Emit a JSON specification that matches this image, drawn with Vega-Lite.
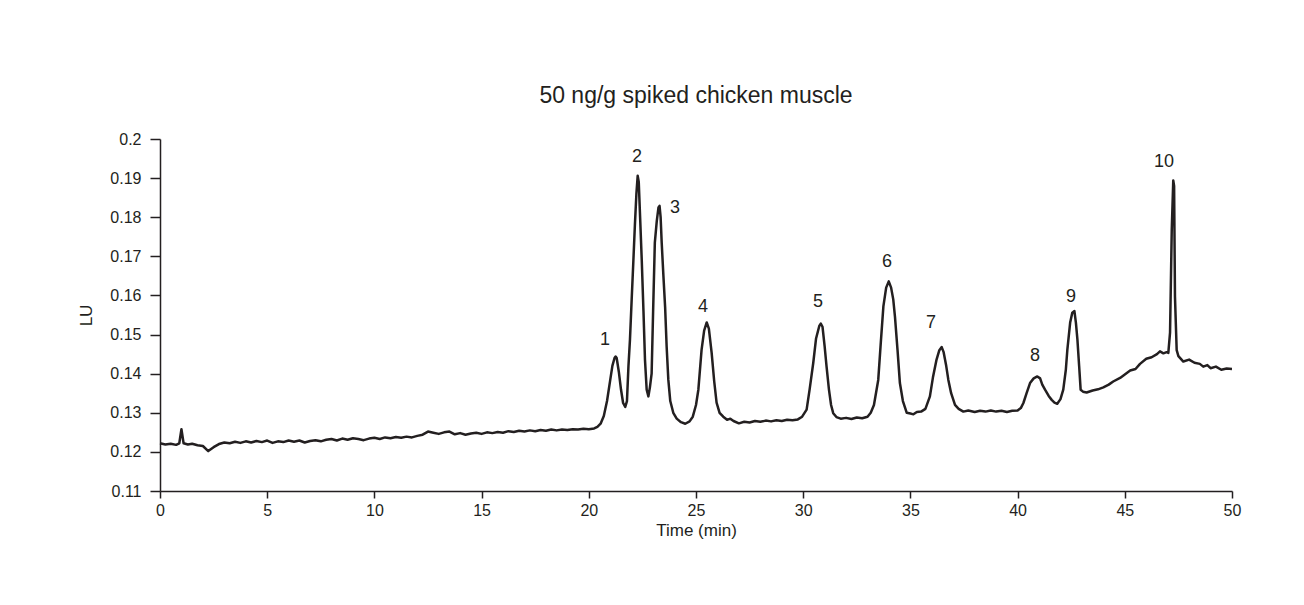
{
  "$schema": "https://vega.github.io/schema/vega-lite/v6.json",
  "width": 1072,
  "height": 352,
  "autosize": {"type": "none"},
  "padding": {"left": 160, "top": 139, "right": 72, "bottom": 114},
  "background": "white",
  "title": {
    "text": "50 ng/g spiked chicken muscle",
    "font": "Liberation Sans",
    "fontSize": 23,
    "fontWeight": "normal",
    "color": "#231f20",
    "anchor": "middle",
    "offset": 23
  },
  "config": {
    "view": {"stroke": null},
    "axis": {
      "grid": false,
      "domainColor": "#231f20",
      "tickColor": "#231f20",
      "labelColor": "#231f20",
      "titleColor": "#231f20",
      "domainWidth": 1.5,
      "tickWidth": 1.5,
      "labelFont": "Liberation Sans",
      "labelFontSize": 16,
      "labelFlush": false,
      "titleFont": "Liberation Sans",
      "titleFontSize": 17,
      "titleFontWeight": "normal"
    }
  },
  "datasets": {
    "trace": [
      {"t": 0.0, "v": 0.1222}, {"t": 0.25, "v": 0.1219}, {"t": 0.5, "v": 0.1221}, {"t": 0.75, "v": 0.1218},
      {"t": 0.9, "v": 0.1222}, {"t": 1.0, "v": 0.1258}, {"t": 1.1, "v": 0.1222}, {"t": 1.3, "v": 0.1219},
      {"t": 1.5, "v": 0.1221}, {"t": 1.75, "v": 0.1217}, {"t": 2.0, "v": 0.1215}, {"t": 2.25, "v": 0.1202},
      {"t": 2.5, "v": 0.1212}, {"t": 2.75, "v": 0.122}, {"t": 3.0, "v": 0.1224}, {"t": 3.25, "v": 0.1222},
      {"t": 3.5, "v": 0.1226}, {"t": 3.75, "v": 0.1223}, {"t": 4.0, "v": 0.1227}, {"t": 4.25, "v": 0.1224},
      {"t": 4.5, "v": 0.1228}, {"t": 4.75, "v": 0.1225}, {"t": 5.0, "v": 0.1229}, {"t": 5.25, "v": 0.1223},
      {"t": 5.5, "v": 0.1227}, {"t": 5.75, "v": 0.1225}, {"t": 6.0, "v": 0.1229}, {"t": 6.25, "v": 0.1226},
      {"t": 6.5, "v": 0.1229}, {"t": 6.75, "v": 0.1224}, {"t": 7.0, "v": 0.1228}, {"t": 7.25, "v": 0.123},
      {"t": 7.5, "v": 0.1227}, {"t": 7.75, "v": 0.1231}, {"t": 8.0, "v": 0.1233}, {"t": 8.25, "v": 0.1229},
      {"t": 8.5, "v": 0.1234}, {"t": 8.75, "v": 0.1231}, {"t": 9.0, "v": 0.1235}, {"t": 9.25, "v": 0.1233},
      {"t": 9.5, "v": 0.123}, {"t": 9.75, "v": 0.1234}, {"t": 10.0, "v": 0.1236}, {"t": 10.25, "v": 0.1233},
      {"t": 10.5, "v": 0.1237}, {"t": 10.75, "v": 0.1235}, {"t": 11.0, "v": 0.1238}, {"t": 11.25, "v": 0.1236},
      {"t": 11.5, "v": 0.1239}, {"t": 11.75, "v": 0.1237}, {"t": 12.0, "v": 0.1241}, {"t": 12.25, "v": 0.1244},
      {"t": 12.5, "v": 0.1252}, {"t": 12.75, "v": 0.1249}, {"t": 13.0, "v": 0.1246}, {"t": 13.25, "v": 0.125},
      {"t": 13.5, "v": 0.1252}, {"t": 13.75, "v": 0.1245}, {"t": 14.0, "v": 0.1248}, {"t": 14.25, "v": 0.1244},
      {"t": 14.5, "v": 0.1247}, {"t": 14.75, "v": 0.1249}, {"t": 15.0, "v": 0.1246}, {"t": 15.25, "v": 0.125},
      {"t": 15.5, "v": 0.1248}, {"t": 15.75, "v": 0.1251}, {"t": 16.0, "v": 0.1249}, {"t": 16.25, "v": 0.1253},
      {"t": 16.5, "v": 0.1251}, {"t": 16.75, "v": 0.1254}, {"t": 17.0, "v": 0.1252}, {"t": 17.25, "v": 0.1255},
      {"t": 17.5, "v": 0.1253}, {"t": 17.75, "v": 0.1256}, {"t": 18.0, "v": 0.1254}, {"t": 18.25, "v": 0.1257},
      {"t": 18.5, "v": 0.1255}, {"t": 18.75, "v": 0.1257}, {"t": 19.0, "v": 0.1256}, {"t": 19.25, "v": 0.1258},
      {"t": 19.5, "v": 0.1257}, {"t": 19.75, "v": 0.1259}, {"t": 20.0, "v": 0.1258}, {"t": 20.25, "v": 0.126},
      {"t": 20.4, "v": 0.1264}, {"t": 20.55, "v": 0.1272}, {"t": 20.7, "v": 0.1292}, {"t": 20.85, "v": 0.133},
      {"t": 21.0, "v": 0.1384}, {"t": 21.1, "v": 0.142}, {"t": 21.2, "v": 0.144}, {"t": 21.25, "v": 0.1444},
      {"t": 21.3, "v": 0.144}, {"t": 21.4, "v": 0.1405}, {"t": 21.5, "v": 0.136}, {"t": 21.6, "v": 0.1325},
      {"t": 21.7, "v": 0.1315}, {"t": 21.78, "v": 0.133}, {"t": 21.85, "v": 0.142}, {"t": 21.92, "v": 0.1487},
      {"t": 22.0, "v": 0.159}, {"t": 22.08, "v": 0.169}, {"t": 22.15, "v": 0.178}, {"t": 22.22, "v": 0.186},
      {"t": 22.28, "v": 0.1906}, {"t": 22.33, "v": 0.189}, {"t": 22.4, "v": 0.179}, {"t": 22.47, "v": 0.169},
      {"t": 22.55, "v": 0.156}, {"t": 22.62, "v": 0.1436}, {"t": 22.7, "v": 0.1359}, {"t": 22.78, "v": 0.1342},
      {"t": 22.85, "v": 0.1365}, {"t": 22.93, "v": 0.14}, {"t": 23.0, "v": 0.156}, {"t": 23.08, "v": 0.1735},
      {"t": 23.17, "v": 0.179}, {"t": 23.25, "v": 0.1825}, {"t": 23.3, "v": 0.1829}, {"t": 23.35, "v": 0.18},
      {"t": 23.4, "v": 0.1735}, {"t": 23.48, "v": 0.165}, {"t": 23.56, "v": 0.157}, {"t": 23.63, "v": 0.147},
      {"t": 23.71, "v": 0.1384}, {"t": 23.8, "v": 0.133}, {"t": 23.94, "v": 0.13}, {"t": 24.1, "v": 0.1285},
      {"t": 24.3, "v": 0.1276}, {"t": 24.5, "v": 0.1272}, {"t": 24.7, "v": 0.1278}, {"t": 24.85, "v": 0.129},
      {"t": 25.0, "v": 0.132}, {"t": 25.11, "v": 0.1359}, {"t": 25.26, "v": 0.1461}, {"t": 25.38, "v": 0.151},
      {"t": 25.5, "v": 0.1531}, {"t": 25.6, "v": 0.1515}, {"t": 25.73, "v": 0.1453}, {"t": 25.85, "v": 0.138},
      {"t": 25.96, "v": 0.1326}, {"t": 26.1, "v": 0.13}, {"t": 26.27, "v": 0.129}, {"t": 26.45, "v": 0.1282},
      {"t": 26.6, "v": 0.1285}, {"t": 26.75, "v": 0.1279}, {"t": 27.0, "v": 0.1273}, {"t": 27.25, "v": 0.1277},
      {"t": 27.5, "v": 0.1275}, {"t": 27.75, "v": 0.1279}, {"t": 28.0, "v": 0.1277}, {"t": 28.25, "v": 0.128},
      {"t": 28.5, "v": 0.1278}, {"t": 28.75, "v": 0.1281}, {"t": 29.0, "v": 0.1279}, {"t": 29.25, "v": 0.1282},
      {"t": 29.5, "v": 0.1281}, {"t": 29.75, "v": 0.1283}, {"t": 29.95, "v": 0.129}, {"t": 30.16, "v": 0.1308},
      {"t": 30.3, "v": 0.136}, {"t": 30.47, "v": 0.1428}, {"t": 30.6, "v": 0.149}, {"t": 30.75, "v": 0.1522},
      {"t": 30.82, "v": 0.1528}, {"t": 30.9, "v": 0.152}, {"t": 31.0, "v": 0.147}, {"t": 31.09, "v": 0.1418},
      {"t": 31.2, "v": 0.136}, {"t": 31.3, "v": 0.132}, {"t": 31.4, "v": 0.1299}, {"t": 31.55, "v": 0.1289},
      {"t": 31.75, "v": 0.1285}, {"t": 32.0, "v": 0.1287}, {"t": 32.25, "v": 0.1284}, {"t": 32.5, "v": 0.1288},
      {"t": 32.75, "v": 0.1286}, {"t": 33.0, "v": 0.129}, {"t": 33.15, "v": 0.13}, {"t": 33.3, "v": 0.132},
      {"t": 33.5, "v": 0.1384}, {"t": 33.62, "v": 0.148}, {"t": 33.74, "v": 0.1572}, {"t": 33.87, "v": 0.162},
      {"t": 33.99, "v": 0.1636}, {"t": 34.1, "v": 0.162}, {"t": 34.2, "v": 0.159}, {"t": 34.28, "v": 0.1546},
      {"t": 34.4, "v": 0.146}, {"t": 34.51, "v": 0.1376}, {"t": 34.65, "v": 0.133}, {"t": 34.83, "v": 0.13},
      {"t": 35.0, "v": 0.1298}, {"t": 35.14, "v": 0.1296}, {"t": 35.3, "v": 0.1302}, {"t": 35.5, "v": 0.1303},
      {"t": 35.7, "v": 0.131}, {"t": 35.91, "v": 0.1342}, {"t": 36.05, "v": 0.139}, {"t": 36.22, "v": 0.1436},
      {"t": 36.35, "v": 0.146}, {"t": 36.46, "v": 0.1468}, {"t": 36.55, "v": 0.1455}, {"t": 36.67, "v": 0.142},
      {"t": 36.77, "v": 0.1384}, {"t": 36.9, "v": 0.135}, {"t": 37.08, "v": 0.132}, {"t": 37.25, "v": 0.131},
      {"t": 37.47, "v": 0.1303}, {"t": 37.7, "v": 0.1306}, {"t": 38.0, "v": 0.1302}, {"t": 38.25, "v": 0.1305},
      {"t": 38.5, "v": 0.1303}, {"t": 38.75, "v": 0.1306}, {"t": 39.0, "v": 0.1303}, {"t": 39.25, "v": 0.1305},
      {"t": 39.5, "v": 0.1302}, {"t": 39.75, "v": 0.1305}, {"t": 40.0, "v": 0.1306}, {"t": 40.15, "v": 0.1312},
      {"t": 40.27, "v": 0.1325}, {"t": 40.42, "v": 0.135}, {"t": 40.58, "v": 0.1376}, {"t": 40.75, "v": 0.1388},
      {"t": 40.92, "v": 0.1393}, {"t": 41.05, "v": 0.1388}, {"t": 41.15, "v": 0.1372}, {"t": 41.28, "v": 0.1359},
      {"t": 41.45, "v": 0.1343}, {"t": 41.59, "v": 0.1333}, {"t": 41.72, "v": 0.1326}, {"t": 41.85, "v": 0.1323},
      {"t": 42.0, "v": 0.1335}, {"t": 42.13, "v": 0.1359}, {"t": 42.25, "v": 0.141}, {"t": 42.32, "v": 0.1461},
      {"t": 42.45, "v": 0.153}, {"t": 42.55, "v": 0.1556}, {"t": 42.65, "v": 0.156}, {"t": 42.72, "v": 0.153},
      {"t": 42.79, "v": 0.1487}, {"t": 42.87, "v": 0.142}, {"t": 42.94, "v": 0.1359}, {"t": 43.05, "v": 0.1354},
      {"t": 43.22, "v": 0.1352}, {"t": 43.5, "v": 0.1357}, {"t": 43.75, "v": 0.136}, {"t": 44.0, "v": 0.1365},
      {"t": 44.25, "v": 0.1372}, {"t": 44.46, "v": 0.138}, {"t": 44.78, "v": 0.1389}, {"t": 45.0, "v": 0.1398},
      {"t": 45.25, "v": 0.1408}, {"t": 45.5, "v": 0.1412}, {"t": 45.71, "v": 0.1425}, {"t": 46.0, "v": 0.1438},
      {"t": 46.25, "v": 0.1442}, {"t": 46.5, "v": 0.145}, {"t": 46.64, "v": 0.1457}, {"t": 46.8, "v": 0.1452},
      {"t": 46.95, "v": 0.1455}, {"t": 47.03, "v": 0.1453}, {"t": 47.11, "v": 0.1505}, {"t": 47.19, "v": 0.1768},
      {"t": 47.26, "v": 0.1894}, {"t": 47.3, "v": 0.188}, {"t": 47.34, "v": 0.1597}, {"t": 47.42, "v": 0.146},
      {"t": 47.5, "v": 0.1445}, {"t": 47.73, "v": 0.1431}, {"t": 48.0, "v": 0.1436}, {"t": 48.25, "v": 0.1428},
      {"t": 48.5, "v": 0.1425}, {"t": 48.66, "v": 0.1418}, {"t": 48.85, "v": 0.1422}, {"t": 49.0, "v": 0.1414},
      {"t": 49.25, "v": 0.1418}, {"t": 49.5, "v": 0.141}, {"t": 49.75, "v": 0.1413}, {"t": 50.0, "v": 0.1412}
    ],
    "peaks": [
      {"label": "1", "t": 20.76, "v": 0.1487},
      {"label": "2", "t": 22.25, "v": 0.1954},
      {"label": "3", "t": 24.02, "v": 0.1824},
      {"label": "4", "t": 25.33, "v": 0.1571},
      {"label": "5", "t": 30.69, "v": 0.1582},
      {"label": "6", "t": 33.91, "v": 0.1686},
      {"label": "7", "t": 35.96, "v": 0.153},
      {"label": "8", "t": 40.81, "v": 0.1444},
      {"label": "9", "t": 42.49, "v": 0.1597},
      {"label": "10", "t": 46.83, "v": 0.194}
    ]
  },
  "layer": [
    {
      "data": {"name": "trace"},
      "mark": {"type": "line", "color": "#231f20", "strokeWidth": 2.5, "strokeJoin": "round"},
      "encoding": {
        "x": {
          "field": "t", "type": "quantitative",
          "scale": {"domain": [0, 50], "nice": false, "zero": false},
          "axis": {
            "title": "Time (min)",
            "values": [0, 5, 10, 15, 20, 25, 30, 35, 40, 45, 50],
            "tickCount": 30,
            "format": "d",
            "tickSize": 7,
            "labelPadding": 4,
            "titlePadding": 4,
            "labelOverlap": false
          }
        },
        "y": {
          "field": "v", "type": "quantitative",
          "scale": {"domain": [0.11, 0.2], "nice": false, "zero": false},
          "axis": {
            "title": "LU",
            "values": [0.11, 0.12, 0.13, 0.14, 0.15, 0.16, 0.17, 0.18, 0.19, 0.2],
            "tickCount": 20,
            "format": ".2~f",
            "tickSize": 10,
            "labelPadding": 9,
            "titlePadding": 14,
            "labelOverlap": false,
            "labelBound": false
          }
        }
      }
    },
    {
      "data": {"name": "peaks"},
      "mark": {
        "type": "text",
        "font": "Liberation Sans",
        "fontSize": 18,
        "color": "#231f20",
        "align": "center",
        "baseline": "middle"
      },
      "encoding": {
        "x": {"field": "t", "type": "quantitative"},
        "y": {"field": "v", "type": "quantitative"},
        "text": {"field": "label"}
      }
    }
  ]
}
